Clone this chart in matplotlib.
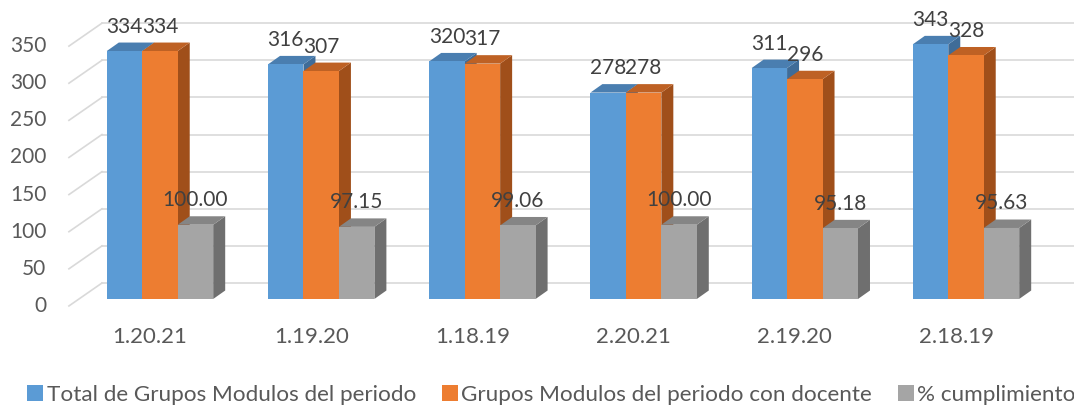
import matplotlib.pyplot as plt
from matplotlib.patches import Polygon, Patch

categorias = ['1.20.21', '1.19.20', '1.18.19', '2.20.21', '2.19.20', '2.18.19']
total_grupos = [334, 316, 320, 278, 311, 343]
grupos_docente = [334, 307, 317, 278, 296, 328]
cumplimiento = [100.00, 97.15, 99.06, 100.00, 95.18, 95.63]
etiquetas_y = [0, 50, 100, 150, 200, 250, 300, 350]

series = [
    ('Total de Grupos Modulos del periodo', total_grupos, '{:d}',
     ('#5B9BD5', '#4A7EB0', '#3F6C98')),
    ('Grupos Modulos del periodo con docente', grupos_docente, '{:d}',
     ('#ED7D31', '#BE6124', '#A04F1A')),
    ('% cumplimiento', cumplimiento, '{:.2f}',
     ('#A5A5A5', '#858585', '#6F6F6F')),
]

plt.rcParams['font.family'] = ['Lato', 'DejaVu Sans']

fig = plt.figure(figsize=(10.74, 4.07), dpi=100)
ax = fig.add_axes([0, 0, 1, 1])
ax.set_xlim(-0.9926, 5.670)
ax.set_ylim(-145.5, 402.7)
ax.axis('off')

# pseudo 3d geometry (data units)
w = 0.22          # bar width
ddx, ddy = 0.0744, 11.4   # bar depth offset
back_off, front_off = 21.5, -9.4
x_back, x_front = -0.36, -0.565
grid_col = '#D9D9D9'

for v in etiquetas_y:
    ax.plot([x_back, 5.67], [v + back_off] * 2, color=grid_col, lw=1.2, zorder=1)
    ax.plot([x_front, x_back], [v + front_off, v + back_off], color=grid_col,
            lw=1.2, zorder=1)
    ax.text(-0.705, v + front_off, str(v), ha='right', va='center',
            fontsize=15, color='#595959')

for i, cat in enumerate(categorias):
    for j, (nombre, vals, fmt, (c_front, c_top, c_side)) in enumerate(series):
        x0 = i - 1.5 * w + j * w
        x1 = x0 + w
        h = vals[i]
        side = Polygon([(x1, 0), (x1 + ddx, ddy), (x1 + ddx, h + ddy), (x1, h)],
                       closed=True, fc=c_side, ec='none', zorder=2)
        top = Polygon([(x0, h), (x1, h), (x1 + ddx, h + ddy), (x0 + ddx, h + ddy)],
                      closed=True, fc=c_top, ec='none', zorder=2)
        front = Polygon([(x0, 0), (x1, 0), (x1, h), (x0, h)],
                        closed=True, fc=c_front, ec='none', zorder=2)
        for p in (side, top, front):
            ax.add_patch(p)
        ax.text((x0 + x1) / 2, h + 33, fmt.format(h),
                ha='center', va='center', fontsize=15, color='#404040', zorder=5)
    ax.text(i - 0.062, -51.2, cat, ha='center', va='center', fontsize=16,
            color='#595959')

handles = [Patch(fc=s[3][0], ec='none', label=s[0]) for s in series]
ax.legend(handles=handles, loc='center', bbox_to_anchor=(0.5135, 0.0295),
          ncol=3, frameon=False, fontsize=16.2, labelcolor='#595959',
          handlelength=0.72, handleheight=0.68, handletextpad=0.14,
          columnspacing=1.15, borderpad=0, borderaxespad=0)

fig.savefig('out.png', dpi=100)
